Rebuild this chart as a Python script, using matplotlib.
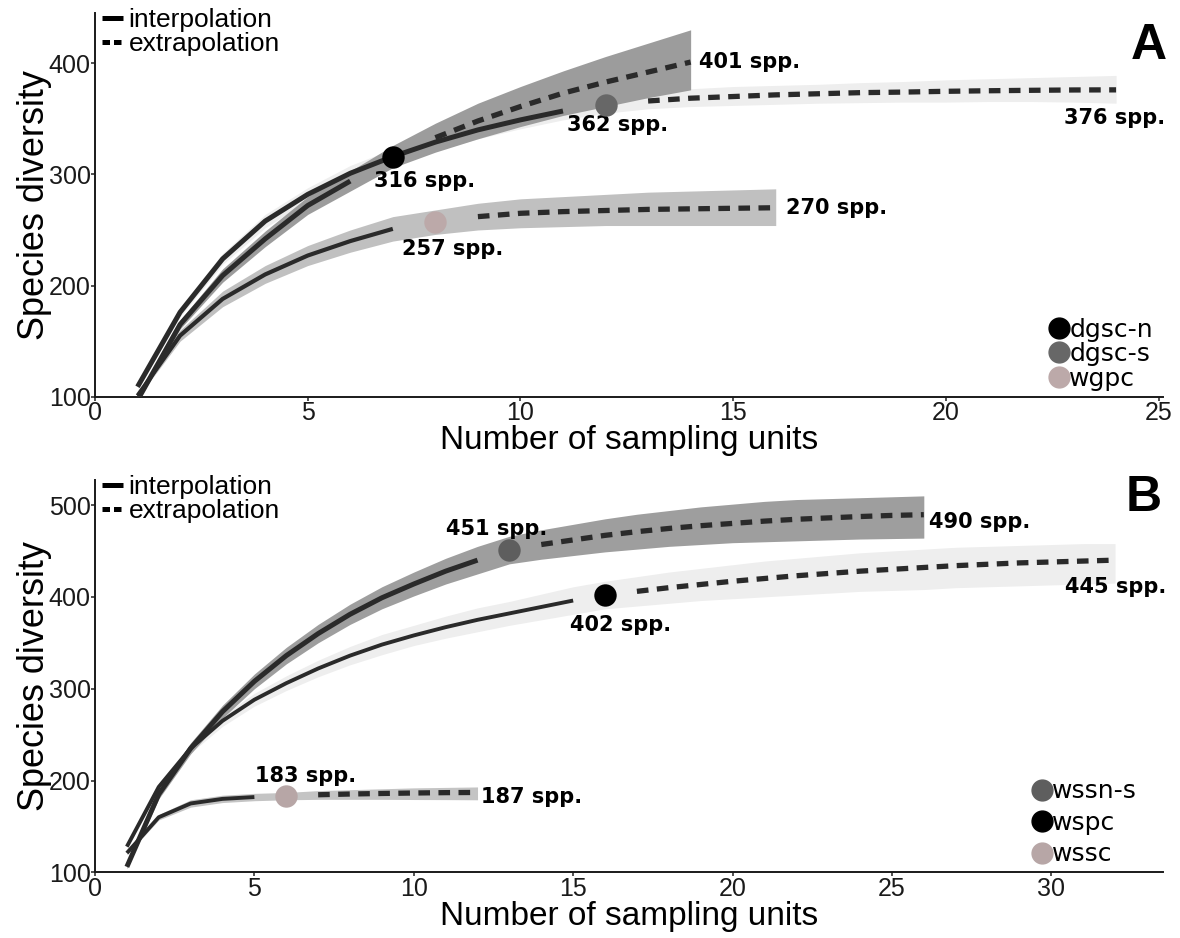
import numpy as np
import matplotlib
matplotlib.use('Agg')
import matplotlib.pyplot as plt
from matplotlib.lines import Line2D

# ---------------- panel A ----------------
a_labels = ['dgsc-n', 'dgsc-s', 'wgpc']
a_obs = [7, 12, 8]
a_x_n = list(range(1, 15))
a_y_n = [97, 165, 209, 242, 272, 294, 316, 333, 348, 361, 373, 383, 392, 401]
a_lo_n = [95, 161, 203, 235, 264, 285, 306, 320, 332, 343, 353, 361, 369, 376]
a_hi_n = [99, 169, 215, 249, 280, 303, 326, 346, 364, 379, 393, 406, 418, 430]

a_x_s = list(range(1, 25))
a_y_s = [109, 176, 224, 258, 282, 301, 316, 329, 340, 349, 357, 362, 366, 368.5,
         370, 371.5, 372.5, 373.5, 374, 374.7, 375.2, 375.6, 375.9, 376]
a_lo_s = [107, 172, 219, 252, 276, 294, 309, 321, 332, 341, 349, 355, 359, 361,
          362, 363, 364, 364.5, 365, 365, 365.5, 365.5, 365, 364]
a_hi_s = [111, 180, 229, 264, 288, 308, 323, 337, 348, 357, 365, 371, 375, 377,
          379, 380, 381, 382.5, 383.5, 385, 386, 387, 388, 389]

a_x_w = list(range(1, 17))
a_y_w = [101, 155, 188, 210, 227, 240, 251, 257, 262, 265, 266.5, 267.5, 268.5, 269, 269.5, 270]
a_lo_w = [99, 150, 181, 202, 218, 230, 240, 246, 250, 252, 253, 254, 254, 254, 254, 254]
a_hi_w = [103, 160, 195, 218, 236, 250, 262, 268, 274, 278, 280, 282, 284, 285, 286, 287]

a_notes = ['316 spp.', '257 spp.', '362 spp.', '401 spp.', '376 spp.', '270 spp.']

# ---------------- panel B ----------------
b_labels = ['wssn-s', 'wspc', 'wssc']
b_obs = [13, 16, 6]
b_x_n = list(range(1, 27))
b_y_n = [106, 185, 235, 275, 308, 336, 360, 381, 399, 414, 428, 440, 451, 457, 462,
         467, 471, 474.5, 477.5, 480, 482.5, 484.5, 486, 487.5, 488.7, 489.5]
b_lo_n = [104, 180, 229, 268, 300, 327, 350, 370, 387, 401, 414, 425, 436, 441, 445,
          449, 452, 455, 457, 459, 460, 461, 462, 463, 463.5, 464]
b_hi_n = [108, 190, 241, 282, 316, 345, 370, 392, 411, 427, 442, 455, 466, 473, 479,
          485, 490, 494, 498, 501, 504, 506, 507, 508, 509, 510]

b_x_p = list(range(1, 33))
b_y_p = [128, 193, 235, 265, 288, 306, 322, 336, 348, 358, 367, 375, 382, 389, 396, 402,
         406, 410, 413.5, 417, 420, 423, 425.5, 428, 430, 432, 434, 435.5, 437, 438, 439, 440]
b_lo_p = [126, 189, 230, 259, 281, 298, 313, 326, 337, 347, 355, 362, 369, 375, 381, 387,
          390, 393, 396, 398, 400, 402, 404, 406, 407, 408, 410, 411, 412, 413, 414, 415]
b_hi_p = [130, 197, 240, 271, 295, 314, 331, 346, 359, 369, 379, 388, 395, 403, 411, 417,
          422, 427, 431, 435, 439, 442, 445, 448, 450, 452, 454, 455, 456, 457, 458, 458]

b_x_c = list(range(1, 13))
b_y_c = [121, 160, 175, 180, 182, 183, 184.5, 185.3, 185.9, 186.4, 186.8, 187]
b_lo_c = [119, 157, 171, 176, 178, 179, 179.5, 179.5, 179.5, 179.3, 179.2, 179]
b_hi_c = [123, 163, 179, 184, 186, 187, 189, 190, 191, 192, 192.5, 193]

b_notes = ['451 spp.', '490 spp.', '402 spp.', '445 spp.', '183 spp.', '187 spp.']

LINE = '#2a2a2a'
DASH = (0, (2.2, 1.6))
SANS = 'Liberation Sans'


def draw_curve(ax, x, y, lo, hi, obs, band, dot, lw, zb):
    x = np.array(x)
    y = np.array(y)
    ax.fill_between(x, lo, hi, color=band, lw=0, zorder=zb)
    m1 = x <= obs - 1
    m2 = x >= obs + 1
    ax.plot(x[m1], y[m1], color=LINE, lw=lw, solid_capstyle='butt', zorder=3)
    ax.plot(x[m2], y[m2], color=LINE, lw=3.8, ls=DASH, dash_capstyle='butt', zorder=3)
    ax.scatter([obs], [y[x == obs][0]], s=260, color=dot, lw=0, zorder=4)


def style_axes(ax, xmax, ymax, xticks, yticks):
    ax.set_xlim(0, xmax)
    ax.set_ylim(100, ymax)
    for s in ['top', 'right']:
        ax.spines[s].set_visible(False)
    for s in ['left', 'bottom']:
        ax.spines[s].set_linewidth(1.4)
        ax.spines[s].set_color('#1a1a1a')
    ax.set_xticks(xticks)
    ax.set_yticks(yticks)
    ax.tick_params(length=3, width=1.2, color='#333333', labelsize=18, pad=0)
    for t in ax.get_xticklabels() + ax.get_yticklabels():
        t.set_family(SANS)
        t.set_color('#1a1a1a')
    ax.set_xlabel('Number of sampling units', family=SANS, fontsize=24, labelpad=0)
    ax.set_ylabel('Species diversity', family=SANS, fontsize=26, labelpad=-2)

    hl = [Line2D([], [], color='black', lw=3.6, solid_capstyle='butt'),
          Line2D([], [], color='black', lw=3.6, ls=(0, (1.5, 0.8)), dash_capstyle='butt')]
    leg = ax.legend(hl, ['interpolation', 'extrapolation'], loc='upper left',
                    bbox_to_anchor=(-0.003, 1.04), frameon=False, handlelength=0.8,
                    handletextpad=0.2, labelspacing=0.0, borderaxespad=0.0,
                    prop={'family': SANS, 'size': 19})
    ax.add_artist(leg)


def dot_legend(ax, labels, colors, anchor, spacing, size):
    hd = [Line2D([], [], marker='o', ls='', ms=15, color=c, mec=c) for c in colors]
    ax.legend(hd, labels, loc='lower right', bbox_to_anchor=anchor, frameon=False,
              handlelength=0.6, handletextpad=0.1, labelspacing=spacing,
              borderaxespad=0.0, prop={'family': 'DejaVu Sans', 'size': size})


fig = plt.figure(figsize=(11.8, 9.38), dpi=100)
axA = fig.add_axes([0.0805, 0.577, 0.905, 0.409])
axB = fig.add_axes([0.0805, 0.070, 0.905, 0.418])

# panel A
draw_curve(axA, a_x_s, a_y_s, a_lo_s, a_hi_s, a_obs[1], '#eeeeee', '#676767', 3.6, 1.0)
draw_curve(axA, a_x_w, a_y_w, a_lo_w, a_hi_w, a_obs[2], '#c0c0c0', '#bca9a9', 3.0, 1.1)
draw_curve(axA, a_x_n, a_y_n, a_lo_n, a_hi_n, a_obs[0], '#9c9c9c', '#000000', 3.6, 1.2)
style_axes(axA, 25.1, 445, [0, 5, 10, 15, 20, 25], [100, 200, 300, 400])
dot_legend(axA, a_labels, ['#000000', '#676767', '#bca9a9'], (1.0, -0.01), 0.02, 18)

bold = dict(family='DejaVu Sans', fontweight='bold', fontsize=15, va='center')
axA.text(7.75, 294, a_notes[0], ha='center', **bold)
axA.text(8.4, 233, a_notes[1], ha='center', **bold)
axA.text(11.1, 344, a_notes[2], ha='left', **bold)
axA.text(14.2, 401, a_notes[3], ha='left', **bold)
axA.text(25.15, 351, a_notes[4], ha='right', **bold)
axA.text(16.25, 270, a_notes[5], ha='left', **bold)
axA.text(24.76, 415, 'A', ha='center', va='center', family=SANS, fontweight='bold', fontsize=36)

# panel B
draw_curve(axB, b_x_p, b_y_p, b_lo_p, b_hi_p, b_obs[1], '#eeeeee', '#000000', 2.8, 1.0)
draw_curve(axB, b_x_c, b_y_c, b_lo_c, b_hi_c, b_obs[2], '#c4c4c4', '#b7a6a6', 2.8, 1.1)
draw_curve(axB, b_x_n, b_y_n, b_lo_n, b_hi_n, b_obs[0], '#9e9e9e', '#5e5e5e', 3.6, 1.2)
style_axes(axB, 33.5, 527, [0, 5, 10, 15, 20, 25, 30], [100, 200, 300, 400, 500])
dot_legend(axB, b_labels, ['#5e5e5e', '#000000', '#b7a6a6'], (0.985, -0.01), 0.3, 18)

axB.text(12.6, 474, b_notes[0], ha='center', **bold)
axB.text(26.15, 482, b_notes[1], ha='left', **bold)
axB.text(16.5, 369, b_notes[2], ha='center', **bold)
axB.text(33.6, 411, b_notes[3], ha='right', **bold)
axB.text(6.6, 205, b_notes[4], ha='center', **bold)
axB.text(12.1, 182, b_notes[5], ha='left', **bold)
axB.text(32.9, 508, 'B', ha='center', va='center', family=SANS, fontweight='bold', fontsize=36)

fig.savefig('out.png', dpi=100)
